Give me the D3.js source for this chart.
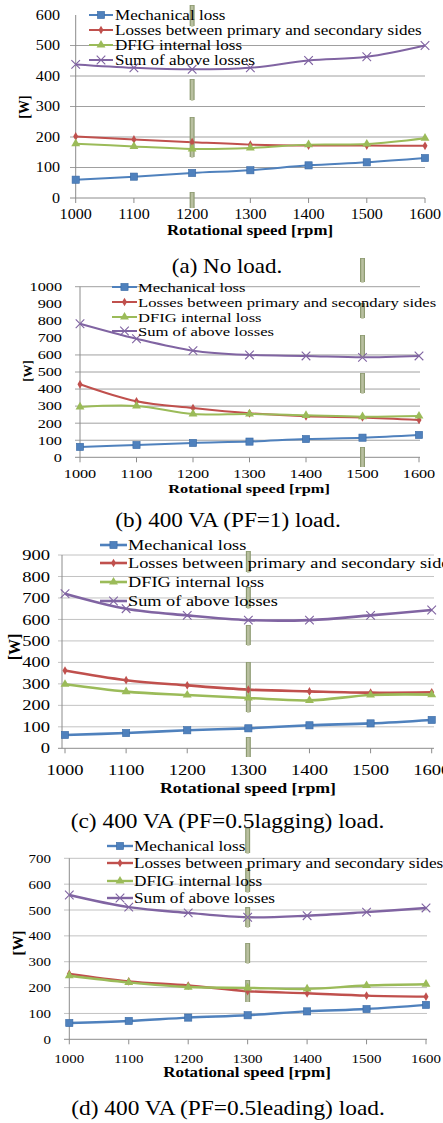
<!DOCTYPE html>
<html><head><meta charset="utf-8">
<script src="https://cdn.jsdelivr.net/npm/d3@7"></script>
<style>html,body{margin:0;padding:0;background:#fff;}svg{display:block;}</style>
</head><body>
<svg id="chart" width="443" height="1123"></svg>
<script>
// ---------------- DATA ----------------
const speeds = [1000, 1100, 1200, 1300, 1400, 1500, 1600];
const seriesNames = ["Mechanical loss", "Losses between primary and secondary sides", "DFIG internal loss", "Sum of above losses"];
const captions = ["(a) No load.", "(b) 400 VA (PF=1) load.", "(c) 400 VA (PF=0.5lagging) load.", "(d) 400 VA (PF=0.5leading) load."];
const xTitle = "Rotational speed [rpm]";
const yTitle = "[W]";

const noLoadMech    = [60, 70, 82, 91, 107, 117, 131];
const noLoadBetween = [202, 192, 183, 175, 172, 172, 171];
const noLoadDfig    = [178, 169, 161, 164, 175, 177, 196];
const noLoadSum     = [438, 427, 422, 427, 451, 463, 500];

const pf1Mech    = [61, 72, 84, 92, 107, 115, 131];
const pf1Between = [428, 328, 289, 258, 240, 234, 219];
const pf1Dfig    = [295, 301, 254, 254, 246, 238, 242];
const pf1Sum     = [783, 695, 625, 600, 594, 586, 594];

const lagMech    = [62, 71, 84, 93, 107, 116, 132];
const lagBetween = [362, 317, 293, 273, 265, 259, 261];
const lagDfig    = [298, 264, 248, 234, 223, 248, 250];
const lagSum     = [720, 650, 619, 597, 597, 619, 644];

const leadMech    = [63, 71, 84, 93, 108, 117, 133];
const leadBetween = [253, 224, 208, 186, 178, 169, 165];
const leadDfig    = [246, 220, 202, 199, 195, 208, 213];
const leadSum     = [558, 511, 489, 472, 478, 492, 508];

const yTicksA = [0, 100, 200, 300, 400, 500, 600];
const yTicksB = [0, 100, 200, 300, 400, 500, 600, 700, 800, 900, 1000];
const yTicksC = [0, 100, 200, 300, 400, 500, 600, 700, 800, 900];
const yTicksD = [0, 100, 200, 300, 400, 500, 600, 700];
const markedSpeeds = [1200, 1500, 1300, 1300];

// ---------------- STYLE / LAYOUT ----------------
const colors = ["#4f81bd", "#c0504d", "#9bbb59", "#8064a2"];
const FONT = "'Liberation Serif','Times New Roman',serif";

const panels = [
  { series: [noLoadMech, noLoadBetween, noLoadDfig, noLoadSum], ticks: yTicksA, mark: markedSpeeds[0], caption: captions[0],
    x0: 75.7, x1: 425, y0: 198, yTop: 15, axisX: 75.7, gridL: 70, gridR: 425, skipGrid: [600], grid: "#a0a0a0",
    tick: {size: 14, sx: 1.15, right: 60}, xTickY: 219, xT: {cx: 250, y: 235, size: 14, sx: 1.2},
    yT: {x: 29, y: 107, size: 14}, leg: {l0: 89, l1: 113, tx: 115, rows: [15, 30, 45, 60], size: 14, sx: 1.22},
    cap: {cx: 227, y: 273, size: 20, sx: 1.15}, bar: {y0: 5, y1: 208, dash: "21,53,21,17,40,35,16"}, lw: 2 },
  { series: [pf1Mech, pf1Between, pf1Dfig, pf1Sum], ticks: yTicksB, mark: markedSpeeds[1], caption: captions[1],
    x0: 80, x1: 419, y0: 457.3, yTop: 286.7, axisX: 80, gridL: 75, gridR: 420, skipGrid: [700, 800, 900], grid: "#a0a0a0",
    tick: {size: 12.5, sx: 1.3, right: 62}, xTickY: 478, xT: {cx: 249, y: 493, size: 13, sx: 1.26},
    yT: {x: 32, y: 371, size: 13}, leg: {l0: 112, l1: 137, tx: 138, rows: [287, 302, 317, 331], size: 13.5, sx: 1.23},
    cap: {cx: 228, y: 527, size: 20, sx: 1.16}, bar: {y0: 258, y1: 467, dash: "24,21,15,17,22,16,20,54,20"}, lw: 2 },
  { series: [lagMech, lagBetween, lagDfig, lagSum], ticks: yTicksC, mark: markedSpeeds[2], caption: captions[2],
    x0: 65, x1: 431.7, y0: 748.3, yTop: 555, axisX: 62, gridL: 58, gridR: 434, skipGrid: [], grid: "#c2c2c2",
    tick: {size: 14.5, sx: 1.28, right: 50}, xTickY: 775, xT: {cx: 248, y: 793, size: 15.5, sx: 1.15},
    yT: {x: 20, y: 647, size: 16}, leg: {l0: 100, l1: 127, tx: 128, rows: [545, 563, 582, 601], size: 15, sx: 1.22},
    cap: {cx: 227.5, y: 828, size: 20, sx: 1.17}, bar: {y0: 551, y1: 757, dash: "21,15,21,17,20,17,50,25,20"}, lw: 2.6 },
  { series: [leadMech, leadBetween, leadDfig, leadSum], ticks: yTicksD, mark: markedSpeeds[3], caption: captions[3],
    x0: 69.3, x1: 426, y0: 1039.3, yTop: 858.3, axisX: 69.3, gridL: 64, gridR: 427, skipGrid: [], grid: "#c2c2c2",
    tick: {size: 13, sx: 1.15, right: 51}, xTickY: 1063, xT: {cx: 247, y: 1077, size: 15, sx: 1.13},
    yT: {x: 23, y: 943, size: 15}, leg: {l0: 107, l1: 133, tx: 134, rows: [846, 863, 881, 898], size: 14, sx: 1.23},
    cap: {cx: 228, y: 1115, size: 20, sx: 1.17}, bar: {y0: 828, y1: 1002, dash: "25,15,24,15,20,16,20,17,22"}, lw: 2.4 }
];

const svg = d3.select("#chart");

function txt(g, x, y, s, o) {
  const t = g.append("text")
    .attr("transform", `translate(${x},${y})` + (o.sx ? ` scale(${o.sx},1)` : "") + (o.rot ? ` rotate(${o.rot})` : ""))
    .attr("font-family", FONT).attr("font-size", o.size)
    .attr("font-weight", o.weight || "normal")
    .attr("text-anchor", o.anchor || "start")
    .attr("fill", "#000").text(s);
  if (o.dy) t.attr("dy", o.dy);
  return t;
}

function marker(g, i, cx, cy) {
  const c = colors[i];
  if (i === 0) {
    g.append("rect").attr("x", cx - 3.6).attr("y", cy - 3.6).attr("width", 7.2).attr("height", 7.2)
      .attr("fill", c).attr("stroke", "#3a6aa5").attr("stroke-width", 0.6);
  } else if (i === 1) {
    g.append("path").attr("d", d3.symbol(d3.symbolDiamond, 22)()).attr("transform", `translate(${cx},${cy})`)
      .attr("fill", c);
  } else if (i === 2) {
    g.append("path").attr("d", d3.symbol(d3.symbolTriangle, 34)()).attr("transform", `translate(${cx},${cy})`)
      .attr("fill", c);
  } else {
    const r = 4.3;
    g.append("path").attr("d", `M${cx - r},${cy - r}L${cx + r},${cy + r}M${cx - r},${cy + r}L${cx + r},${cy - r}`)
      .attr("stroke", c).attr("stroke-width", 1.1).attr("fill", "none");
  }
}

panels.forEach(p => {
  const g = svg.append("g");
  const maxV = p.ticks[p.ticks.length - 1];
  const x = d3.scaleLinear().domain([speeds[0], speeds[speeds.length - 1]]).range([p.x0, p.x1]);
  const y = d3.scaleLinear().domain([0, maxV]).range([p.y0, p.yTop]);

  // gridlines
  g.append("g").selectAll("line").data(p.ticks.filter(v => v > 0 && !p.skipGrid.includes(v))).join("line")
    .attr("x1", p.gridL).attr("x2", p.gridR).attr("y1", d => y(d)).attr("y2", d => y(d))
    .attr("stroke", p.grid).attr("stroke-width", 1);
  // y axis line
  g.append("line").attr("x1", p.axisX).attr("x2", p.axisX).attr("y1", y(maxV)).attr("y2", y(0))
    .attr("stroke", "#8c8c8c").attr("stroke-width", 1);
  // x axis line + ticks
  g.append("line").attr("x1", p.gridL).attr("x2", p.gridR).attr("y1", y(0)).attr("y2", y(0))
    .attr("stroke", "#8c8c8c").attr("stroke-width", 1);
  g.append("g").selectAll("line").data(speeds).join("line")
    .attr("x1", d => x(d)).attr("x2", d => x(d)).attr("y1", y(0)).attr("y2", y(0) + 5)
    .attr("stroke", "#8c8c8c").attr("stroke-width", 1);

  // y tick labels
  p.ticks.forEach(v => txt(g, p.tick.right, y(v), String(v), {size: p.tick.size, sx: p.tick.sx, anchor: "end", dy: "0.35em"}));
  // x tick labels
  speeds.forEach(s => txt(g, x(s), p.xTickY, String(s), {size: p.tick.size, sx: p.tick.sx, anchor: "middle"}));
  // axis titles
  txt(g, p.xT.cx, p.xT.y, xTitle, {size: p.xT.size, sx: p.xT.sx, anchor: "middle", weight: "bold"});
  txt(g, p.yT.x, p.yT.y, yTitle, {size: p.yT.size, anchor: "middle", weight: "bold", rot: -90});

  // lines
  const line = d3.line().x((d, i) => x(speeds[i])).y(d => y(d)).curve(d3.curveCatmullRom.alpha(0.5));
  p.series.forEach((vals, i) => {
    g.append("path").attr("d", line(vals)).attr("fill", "none")
      .attr("stroke", colors[i]).attr("stroke-width", p.lw).attr("stroke-linejoin", "round");
  });

  // dashed vertical marker bar (outlined, light fill)
  const bx = x(p.mark);
  g.append("line").attr("x1", bx).attr("x2", bx).attr("y1", p.bar.y0).attr("y2", p.bar.y1)
    .attr("stroke", "#8e9b72").attr("stroke-width", 5).attr("stroke-dasharray", p.bar.dash);
  g.append("line").attr("x1", bx).attr("x2", bx).attr("y1", p.bar.y0 + 0.8).attr("y2", p.bar.y1)
    .attr("stroke", "#b9c0a0").attr("stroke-width", 2.6).attr("stroke-dasharray", p.bar.dash);

  // markers
  p.series.forEach((vals, i) => {
    vals.forEach((v, j) => marker(g, i, x(speeds[j]), y(v)));
  });

  // legend
  seriesNames.forEach((name, i) => {
    const ry = p.leg.rows[i];
    g.append("line").attr("x1", p.leg.l0).attr("x2", p.leg.l1).attr("y1", ry).attr("y2", ry)
      .attr("stroke", colors[i]).attr("stroke-width", p.lw);
    marker(g, i, (p.leg.l0 + p.leg.l1) / 2, ry);
    txt(g, p.leg.tx, ry, name, {size: p.leg.size, sx: p.leg.sx, dy: "0.35em"});
  });

  // caption
  txt(g, p.cap.cx, p.cap.y, p.caption, {size: p.cap.size, sx: p.cap.sx, anchor: "middle"});
});
</script>
</body></html>
